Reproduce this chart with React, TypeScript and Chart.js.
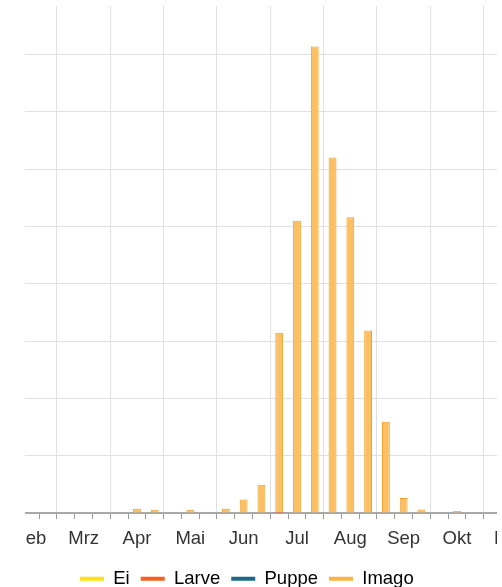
import React, { useEffect, useRef } from "react";
import { Chart, registerables } from "chart.js";

Chart.register(...registerables);

// Months shown (each split into three decades)
const months = ["Jan", "Feb", "Mrz", "Apr", "Mai", "Jun", "Jul", "Aug", "Sep", "Okt", "Nov"];
const decadeNames = ["I", "II", "III"];

// Series values per decade (Jan I ... Nov III)
const ei = [
  0, 0, 0, 0, 0, 0, 0, 0, 0, 0, 0, 0, 0, 0, 0, 0, 0, 0,
  0, 0, 0, 0, 0, 0, 0, 0, 0, 0, 0, 0, 0, 0, 0,
];
const larve = [
  0, 0, 0, 0, 0, 0, 0, 0, 0, 0, 0, 0, 0, 0, 0, 0, 0, 0,
  0.4, 0, 0, 0, 0, 0, 0, 0, 0, 0, 0, 0, 0, 0, 0,
];
const puppe = [
  0, 0, 0, 0, 0, 0, 0, 0, 0, 0, 0, 0, 0, 0, 0, 0, 0, 0,
  0, 0, 0, 0, 0, 0, 0, 0, 0, 0, 0, 0, 0, 0, 0,
];
const imago = [
  0, 0, 0, // Jan
  0, 0, 0, // Feb
  0, 0, 0, // Mrz
  0, 1.5, 1.15, // Apr
  0, 1.15, 0, // Mai
  1.5, 4.7, 9.9, // Jun
  62.5, 102, 162.8, // Jul
  124, 103.2, 63.7, // Aug
  31.8, 5.2, 1.25, // Sep
  0, 0.7, 0, // Okt
  0, 0, 0, // Nov
];

const seriesNames = ["Ei", "Larve", "Puppe", "Imago"];
const legendColors = ["#ffe20f", "#f2611d", "#1b6889", "#fbb43f"];

const FONT = "'Liberation Sans', Arial, Helvetica, sans-serif";
const FONT_SIZE = 18.5;

// Canvas geometry (page coordinates), the view is a cropped window of a larger chart
const CL = -60;
const CT = -8.5;
const CW = 620;
const CH = 610;
const CLIP = { left: 25, top: 6, width: 472, height: 581 };

export default function App() {
  const ref = useRef<HTMLCanvasElement | null>(null);

  useEffect(() => {
    if (!ref.current) return;
    const categories = months.flatMap((m) => decadeNames.map((d) => `${m} ${d}`));
    const chart = new Chart(ref.current, {
      type: "bar",
      data: {
        labels: categories,
        datasets: [
          { label: seriesNames[0], data: ei, backgroundColor: legendColors[0], borderColor: legendColors[0], borderWidth: 1 },
          { label: seriesNames[1], data: larve, backgroundColor: legendColors[1], borderColor: legendColors[1], borderWidth: 0 },
          { label: seriesNames[2], data: puppe, backgroundColor: legendColors[2], borderColor: legendColors[2], borderWidth: 1 },
          { label: seriesNames[3], data: imago, backgroundColor: "#fcc062", borderColor: "#ee9f2c", borderWidth: 1 },
        ],
      },
      options: {
        animation: false,
        responsive: false,
        devicePixelRatio: 1,
        datasets: { bar: { barPercentage: 0.44, categoryPercentage: 1 } },
        layout: { padding: { left: 10.3, right: 16.6, top: 5.1, bottom: 4 } },
        plugins: {
          tooltip: { enabled: false },
          legend: {
            position: "bottom",
            labels: {
              boxWidth: 24,
              boxHeight: 4,
              padding: 11,
              color: "#333",
              font: { family: FONT, size: FONT_SIZE },
              generateLabels: (c: any) =>
                c.data.datasets.map((ds: any, i: number) => ({
                  text: ds.label,
                  fillStyle: legendColors[i],
                  strokeStyle: legendColors[i],
                  lineWidth: 0,
                  hidden: false,
                  datasetIndex: i,
                })),
            },
          },
        },
        scales: {
          x: {
            stacked: true,
            offset: true,
            grid: {
              offset: true,
              color: (ctx: any) => (ctx.index % 3 === 0 ? "#e0e0e0" : "rgba(0,0,0,0)"),
              tickColor: "#999",
              tickLength: 6,
              lineWidth: 1,
            },
            border: { display: true, color: "#a8a8a8", width: 2 },
            ticks: {
              autoSkip: false,
              maxRotation: 0,
              minRotation: 0,
              padding: 3.1,
              color: "#333",
              font: { family: FONT, size: FONT_SIZE, lineHeight: 1.8 },
              callback: (_v: any, i: number) => (i % 3 === 1 ? months[Math.floor(i / 3)] : ""),
            },
          },
          y: {
            stacked: true,
            position: "right",
            min: 0,
            max: 180,
            grid: {
              color: "#e0e0e0",
              lineWidth: 1,
              drawTicks: true,
              tickLength: 6.4,
              tickColor: "rgba(0,0,0,0)",
            },
            border: { display: false },
            ticks: { display: false, stepSize: 20 },
          },
        },
      },
    });
    return () => chart.destroy();
  }, []);

  return (
    <div
      style={{
        position: "absolute",
        left: 0,
        top: 0,
        width: 502,
        height: 587,
        overflow: "hidden",
        background: "#fff",
      }}
    >
      <div
        style={{
          position: "absolute",
          left: CLIP.left,
          top: CLIP.top,
          width: CLIP.width,
          height: CLIP.height,
          overflow: "hidden",
        }}
      >
        <canvas
          ref={ref}
          width={CW}
          height={CH}
          style={{ position: "absolute", left: CL - CLIP.left, top: CT - CLIP.top, width: CW, height: CH }}
        />
      </div>
    </div>
  );
}
